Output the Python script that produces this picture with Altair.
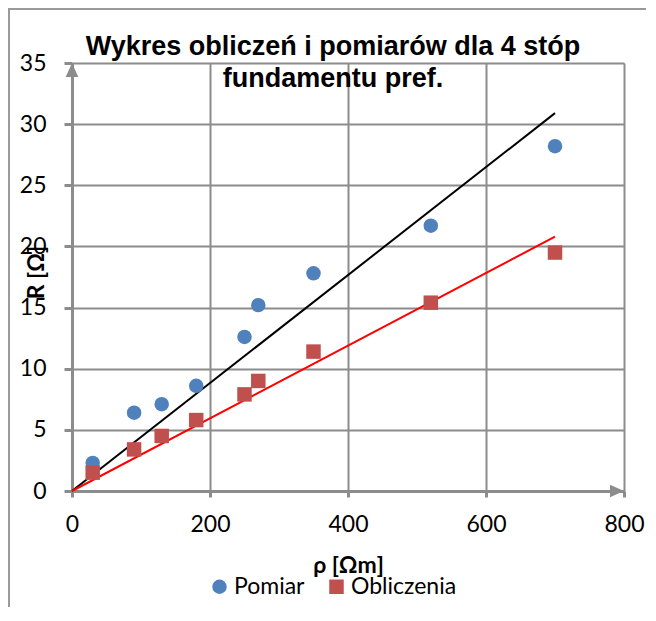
import altair as alt
import pandas as pd

# ---- data ----
rho = [30, 90, 130, 180, 250, 270, 350, 520, 700]
pomiar = [2.3, 6.4, 7.1, 8.6, 12.6, 15.2, 17.8, 21.7, 28.2]
obliczenia = [1.5, 3.4, 4.5, 5.8, 7.9, 9.0, 11.4, 15.4, 19.5]

line_rho = [0, 700]
line_pomiar = [0, 30.9]
line_obliczenia = [0, 20.8]

series_names = ["Pomiar", "Obliczenia"]
x_domain = [0, 800]
y_domain = [0, 35]
x_ticks = [0, 200, 400, 600, 800]
y_ticks = [0, 5, 10, 15, 20, 25, 30, 35]

points = pd.DataFrame(
    {"rho": rho * 2,
     "R": pomiar + obliczenia,
     "seria": ["Pomiar"] * len(rho) + ["Obliczenia"] * len(rho)}
)
lines = pd.DataFrame(
    {"rho": line_rho * 2,
     "R": line_pomiar + line_obliczenia,
     "seria": ["Pomiar"] * 2 + ["Obliczenia"] * 2}
)
arrow_y = pd.DataFrame({"rho": [x_domain[0]], "R": [y_domain[1]]})
arrow_x = pd.DataFrame({"rho": [x_domain[1]], "R": [y_domain[0]]})

GRID = "#8c8c8c"
LBL = "Lato"

xscale = alt.Scale(domain=x_domain, nice=False, zero=True)
yscale = alt.Scale(domain=y_domain, nice=False, zero=True)

xaxis = alt.Axis(
    values=x_ticks, title="ρ [Ωm]", grid=True, gridColor=GRID, gridWidth=2,
    domainColor=GRID, domainWidth=3, tickColor=GRID, tickWidth=3, tickSize=6,
    labelFont=LBL, labelFontSize=23, labelColor="#000000", labelPadding=16,
    labelFlush=False, labelOverlap=False,
    titleFont=LBL, titleFontSize=23, titleFontWeight="bold", titleColor="#000000",
    titleX=276, titleY=81, titleBaseline="alphabetic", titleAnchor="middle",
)
yaxis = alt.Axis(
    values=y_ticks, title="R [Ω]", grid=True, gridColor=GRID, gridWidth=2,
    domainColor=GRID, domainWidth=3, tickColor=GRID, tickWidth=3, tickSize=8,
    labelFont=LBL, labelFontSize=23, labelColor="#000000", labelPadding=18,
    labelFlush=False, labelOverlap=False,
    titleFont=LBL, titleFontSize=23, titleFontWeight="bold", titleColor="#000000",
    titleX=-36, titleY=209, titleAngle=270, titleBaseline="middle", titleAnchor="middle",
)

color_scale = alt.Scale(domain=series_names, range=["#4F81BD", "#C0504D"])
shape_scale = alt.Scale(domain=series_names, range=["circle", "square"])

base_pts = alt.Chart(points).mark_point(filled=True, opacity=1, size=210).encode(
    x=alt.X("rho:Q", scale=xscale, axis=xaxis),
    y=alt.Y("R:Q", scale=yscale, axis=yaxis),
    color=alt.Color("seria:N", scale=color_scale, sort=series_names,
                    legend=alt.Legend(
                        title=None, orient="none", direction="horizontal",
                        legendX=136, legendY=512,
                        labelFont=LBL, labelFontSize=23, labelColor="#000000",
                        symbolSize=210, symbolStrokeWidth=0, columnPadding=20,
                        labelOffset=3)),
    shape=alt.Shape("seria:N", scale=shape_scale, sort=series_names),
)

trend = alt.Chart(lines).mark_line(strokeWidth=2).encode(
    x=alt.X("rho:Q", scale=xscale),
    y=alt.Y("R:Q", scale=yscale),
    detail="seria:N",
    stroke=alt.Stroke("seria:N", scale=alt.Scale(domain=series_names, range=["#000000", "#ff0000"]),
                      legend=None),
)

arr_up = alt.Chart(arrow_y).mark_point(
    shape="M0,0 L0.45,1 L-0.45,1 Z", filled=True, color=GRID, opacity=1, size=784
).encode(x=alt.X("rho:Q", scale=xscale), y=alt.Y("R:Q", scale=yscale))
arr_right = alt.Chart(arrow_x).mark_point(
    shape="M0,0 L-1,-0.45 L-1,0.45 Z", filled=True, color=GRID, opacity=1, size=784
).encode(x=alt.X("rho:Q", scale=xscale), y=alt.Y("R:Q", scale=yscale))

frame = alt.Chart(arrow_x).mark_rect(filled=False, stroke="#9a9a9a", strokeWidth=2, clip=False).encode(
    x=alt.value(-63), x2=alt.value(800), y=alt.value(-54), y2=alt.value(800)
)

chart = alt.layer(frame, trend, base_pts, arr_up, arr_right).resolve_scale(
    color="independent", shape="independent"
).properties(
    width=552, height=428,
    padding={"left": 64, "top": 55, "right": 22, "bottom": 116},
    autosize=alt.AutoSizeParams(type="none"),
    title=alt.TitleParams(
        text=["Wykres obliczeń i pomiarów dla 4 stóp", "fundamentu pref."],
        font="Liberation Sans", fontSize=27, fontWeight="bold", color="#000000",
        anchor="middle", frame="group", lineHeight=32, dx=-15, offset=-85,
    ),
).configure_view(stroke=None).configure(background="#ffffff")

chart.save("out.html", embed_options={"renderer": "svg", "actions": False})
